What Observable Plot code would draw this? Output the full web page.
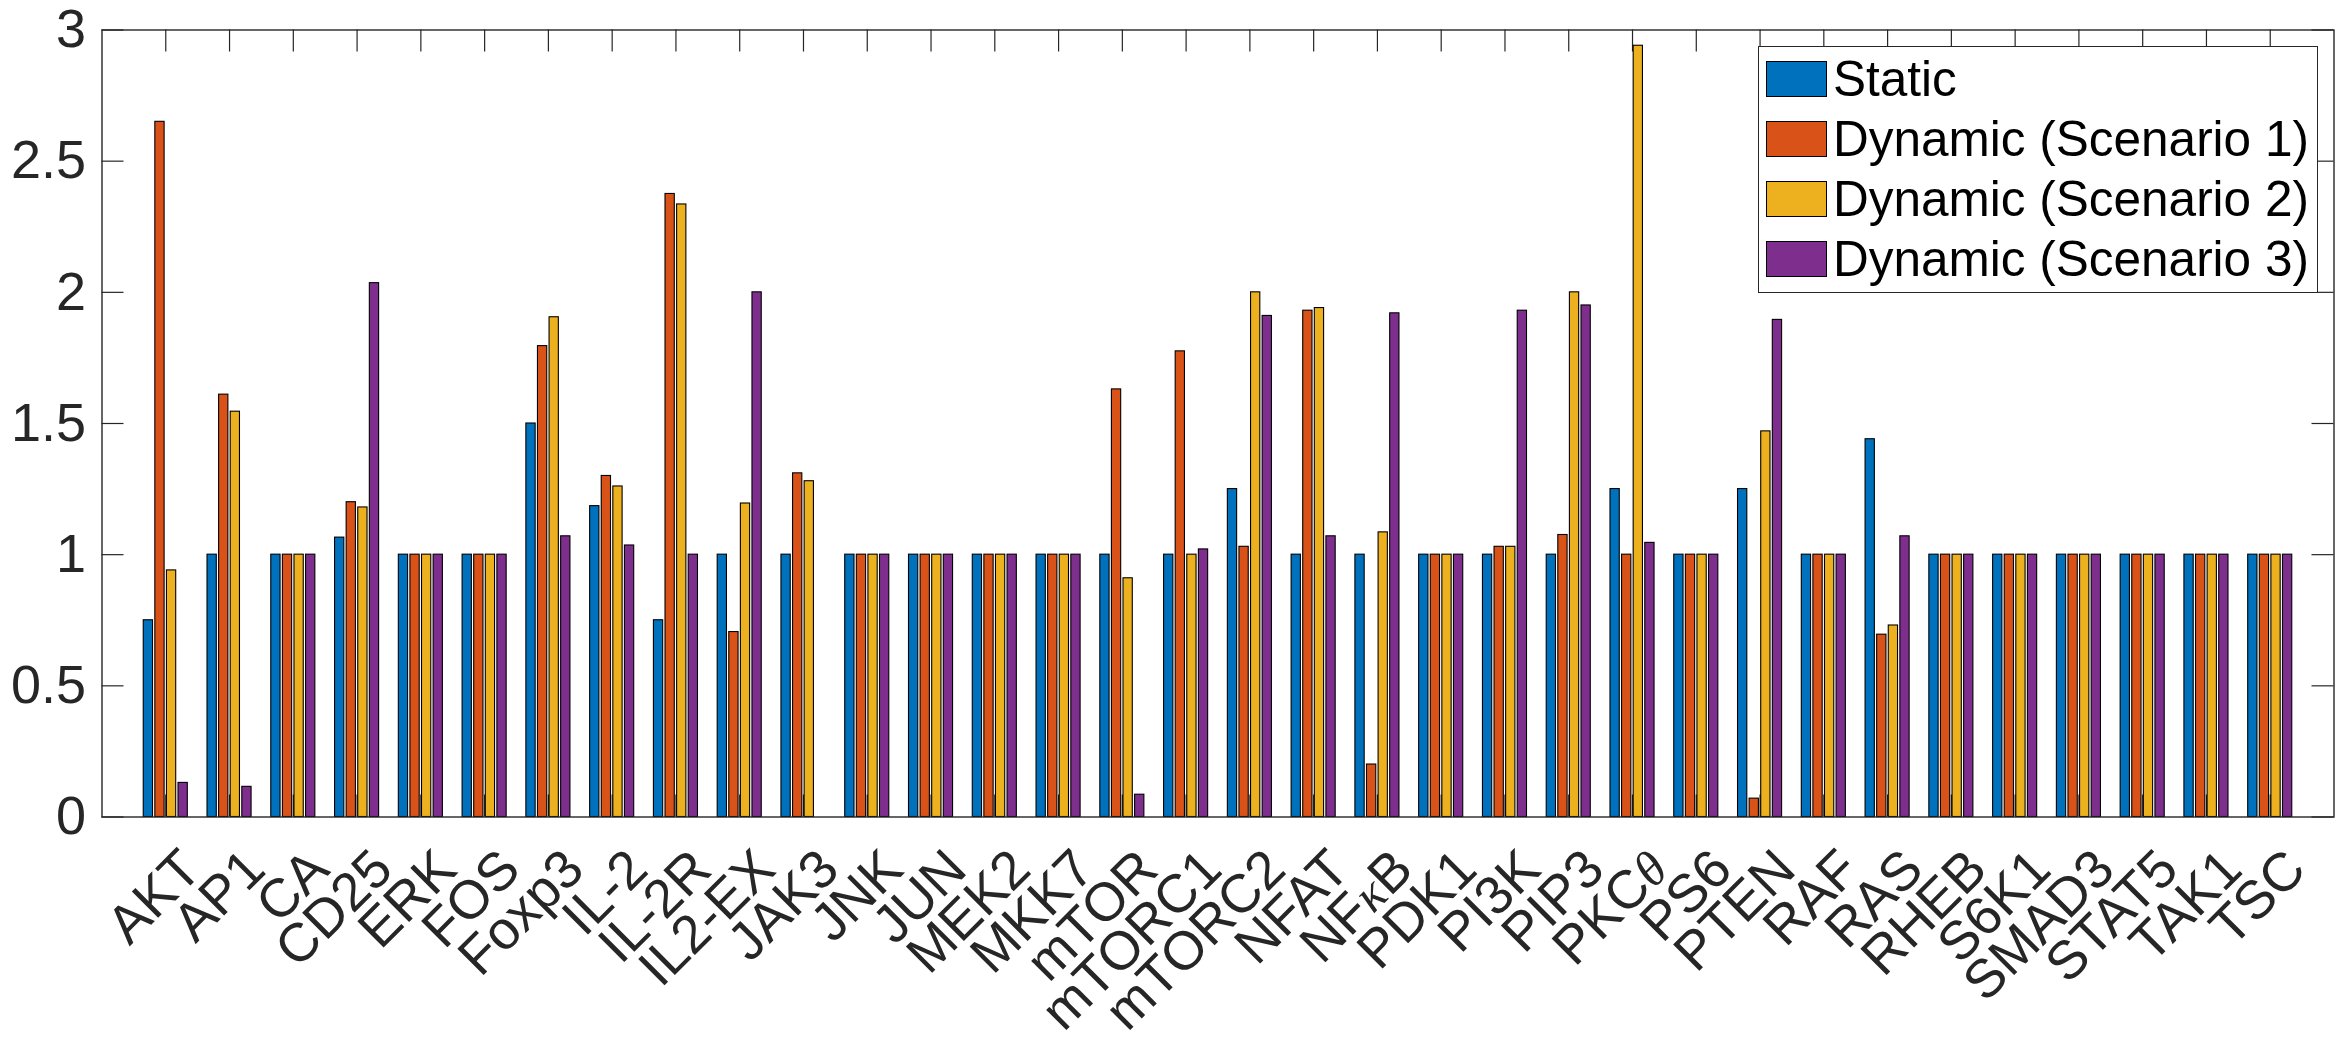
<!DOCTYPE html>
<html><head><meta charset="utf-8">
<script src="https://cdn.jsdelivr.net/npm/d3@7"></script>
<script src="https://cdn.jsdelivr.net/npm/@observablehq/plot@0.6"></script>
<style>
body{margin:0;background:#fff;}
#wrap{position:relative;width:2347px;height:1039px;font-family:"Liberation Sans",Arial,Helvetica,sans-serif;color:#262626;}
#legend{position:absolute;left:1758px;top:46px;width:560px;height:247px;border:1.3px solid #262626;background:#fff;box-sizing:border-box;}
.row{position:absolute;left:7px;height:36px;display:flex;align-items:center;}
.sw{width:61px;height:36px;border:1px solid #000;box-sizing:border-box;margin-right:6px;flex:none;}
.lab{font-size:49.5px;line-height:36px;white-space:nowrap;color:#000;}
</style></head><body><div id="wrap"></div>
<script>
// ---------- data ----------
const categories = ["AKT","AP1","CA","CD25","ERK","FOS","Foxp3","IL-2","IL-2R","IL2-EX","JAK3","JNK","JUN","MEK2","MKK7","mTOR","mTORC1","mTORC2","NFAT","NFκB","PDK1","PI3K","PIP3","PKCθ","PS6","PTEN","RAF","RAS","RHEB","S6K1","SMAD3","STAT5","TAK1","TSC"];
const seriesNames = ["Static","Dynamic (Scenario 1)","Dynamic (Scenario 2)","Dynamic (Scenario 3)"];
const staticValues = [0.75,1,1,1.065,1,1,1.5,1.185,0.75,1,1,1,1,1,1,1,1,1.25,1,1,1,1,1,1.25,1,1.25,1,1.44,1,1,1,1,1,1];
const scenario1Values = [2.65,1.61,1,1.2,1,1,1.795,1.3,2.375,0.705,1.31,1,1,1,1,1.63,1.775,1.03,1.93,0.2,1,1.03,1.075,1,1,0.07,1,0.695,1,1,1,1,1,1];
const scenario2Values = [0.94,1.545,1,1.18,1,1,1.905,1.26,2.335,1.195,1.28,1,1,1,1,0.91,1,2.0,1.94,1.085,1,1.03,2.0,2.94,1,1.47,1,0.73,1,1,1,1,1,1];
const scenario3Values = [0.13,0.115,1,2.035,1,1,1.07,1.035,1,2.0,0,1,1,1,1,0.085,1.02,1.91,1.07,1.92,1,1.93,1.95,1.045,1,1.895,1,1.07,1,1,1,1,1,1];
const yTicks = [0,0.5,1,1.5,2,2.5,3];
const colors = ["#0072BD","#D95319","#EDB120","#7E2F8E"];

// ---------- layout ----------
const W = 2347, H = 1039;
const mL = 101.5, mR = 13.5, mT = 29.5, mB = 222.5;
const frameW = W - mL - mR, frameH = H - mT - mB;
const tickLen = 22;
const fontSize = 54;
const font = "'Liberation Sans', Arial, Helvetica, sans-serif";

// MATLAB grouped-bar geometry (4 series)
const groupWidth = Math.min(0.8, 4 / (4 + 1.5));
const slot = groupWidth / 4;
const barW = slot * 0.8;

const allSeries = [staticValues, scenario1Values, scenario2Values, scenario3Values];
const bars = [];
categories.forEach((c, i) => {
  allSeries.forEach((vals, j) => {
    const center = (i + 1) - groupWidth / 2 + slot * (j + 0.5);
    bars.push({category: c, series: seriesNames[j], value: vals[i], x1: center - barW / 2, x2: center + barW / 2});
  });
});
const xPositions = categories.map((d, i) => i + 1);

const chart = Plot.plot({
  width: W, height: H,
  marginLeft: mL, marginRight: mR, marginTop: mT, marginBottom: mB,
  style: {fontFamily: font, color: "#262626", background: "#fff"},
  x: {type: "linear", domain: [0, categories.length + 1], axis: null},
  y: {domain: [0, 3], axis: null},
  color: {domain: seriesNames, range: colors},
  marks: [
    // inward ticks (bottom, top, left, right)
    Plot.tickX(xPositions, {x: d => d, insetTop: frameH - tickLen, stroke: "#262626", strokeWidth: 1.2}),
    Plot.tickX(xPositions, {x: d => d, insetBottom: frameH - tickLen, stroke: "#262626", strokeWidth: 1.2}),
    Plot.tickY(yTicks, {y: d => d, insetRight: frameW - tickLen, stroke: "#262626", strokeWidth: 1.2}),
    Plot.tickY(yTicks, {y: d => d, insetLeft: frameW - tickLen, stroke: "#262626", strokeWidth: 1.2}),
    Plot.rect(bars, {x1: "x1", x2: "x2", y1: 0, y2: "value", fill: "series", stroke: "#000", strokeWidth: 1.1}),
    Plot.frame({stroke: "#262626", strokeWidth: 1.4}),
    Plot.axisY(yTicks, {label: null, tickSize: 0, tickPadding: 16, fontSize, tickFormat: d => String(d), fill: "#262626"}),
    Plot.text(categories, {x: (d, i) => i + 1, text: d => d, frameAnchor: "bottom", textAnchor: "end", lineAnchor: "top",
      rotate: -45, dx: 11, dy: 28, fontSize, fill: "#262626"})
  ]
});

// TeX-style Greek letters in two labels
chart.querySelectorAll("text").forEach(t => {
  if (t.textContent === "NFκB") t.innerHTML = 'NF<tspan font-family="Liberation Serif" font-style="italic" font-size="50">κ</tspan>B';
  if (t.textContent === "PKCθ") t.innerHTML = 'PKC<tspan font-family="Liberation Serif" font-style="italic" font-size="50">θ</tspan>';
});

const wrap = document.getElementById("wrap");
wrap.appendChild(chart);

// legend (inside the axes, top-right)
const legend = document.createElement("div");
legend.id = "legend";
seriesNames.forEach((name, j) => {
  const row = document.createElement("div");
  row.className = "row";
  row.style.top = (14 + j * 60) + "px";
  row.innerHTML = `<div class="sw" style="background:${colors[j]}"></div><div class="lab">${name}</div>`;
  legend.appendChild(row);
});
wrap.appendChild(legend);
</script></body></html>
